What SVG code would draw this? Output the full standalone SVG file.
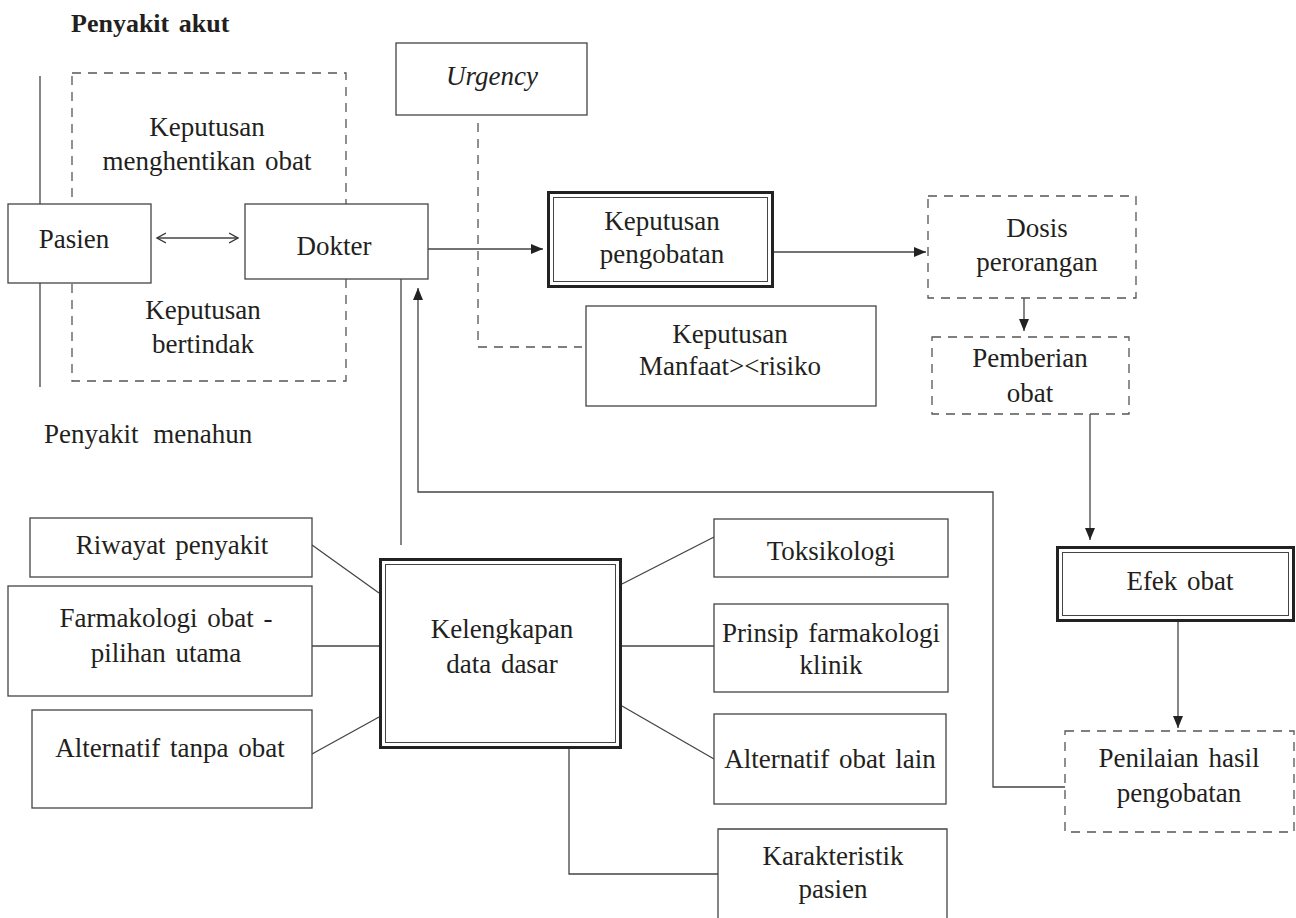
<svg xmlns="http://www.w3.org/2000/svg" width="1296" height="918" viewBox="0 0 1296 918">
<style>
text{font-family:"Liberation Serif","DejaVu Serif",serif;font-size:27px;fill:#231f20;text-anchor:middle;word-spacing:3px}
.l{text-anchor:start}
.b{font-weight:bold;font-size:26px}
.i{font-style:italic}
.box{fill:#fff;stroke:#444;stroke-width:1.3}
.dbox{fill:#fff;stroke:#555;stroke-width:1.3;stroke-dasharray:9 7}
.outer{fill:#fff;stroke:#222;stroke-width:3}
.inner{fill:none;stroke:#444;stroke-width:1}
.ln{fill:none;stroke:#444;stroke-width:1.3}
.dl{fill:none;stroke:#555;stroke-width:1.3;stroke-dasharray:9 7}
</style>
<defs>
<marker id="arr" viewBox="0 0 12 10" refX="12" refY="5" markerWidth="12" markerHeight="10" markerUnits="userSpaceOnUse" orient="auto">
<path d="M0,0 L12,5 L0,10 Z" fill="#222"/>
</marker>
<marker id="open" viewBox="0 0 10 12" refX="9" refY="6" markerWidth="10" markerHeight="12" markerUnits="userSpaceOnUse" orient="auto-start-reverse">
<path d="M0,1 L9,6 L0,11" fill="none" stroke="#333" stroke-width="1.3"/>
</marker>
</defs>
<rect width="1296" height="918" fill="#fff"/>

<g id="labels">
<text class="l b" x="71" y="32">Penyakit akut</text>
<text class="l" x="44" y="443" style="word-spacing:8px">Penyakit menahun</text>
</g>

<g id="decision-area">
<line class="ln" x1="40" y1="76" x2="40" y2="204"/>
<line class="ln" x1="40" y1="283" x2="40" y2="387"/>
<rect class="dbox" x="72" y="73" width="274" height="308"/>
<text x="207" y="136">Keputusan</text>
<text x="207" y="170">menghentikan obat</text>
<text x="203" y="319">Keputusan</text>
<text x="203" y="353">bertindak</text>
</g>

<g id="connectors">
<line class="ln" x1="157" y1="238" x2="238" y2="238" marker-start="url(#open)" marker-end="url(#open)"/>
<polyline class="dl" points="478,123 478,347 582,347"/>
<line class="ln" x1="428" y1="249" x2="543" y2="249" marker-end="url(#arr)"/>
<line class="ln" x1="774" y1="252" x2="926" y2="252" marker-end="url(#arr)"/>
<line class="ln" x1="1024" y1="298" x2="1024" y2="331" marker-end="url(#arr)"/>
<line class="ln" x1="1090" y1="414" x2="1090" y2="540" marker-end="url(#arr)"/>
<line class="ln" x1="1178" y1="621" x2="1178" y2="728" marker-end="url(#arr)"/>
<polyline class="ln" points="1065,787 993,787 993,492 418,492 418,288" marker-end="url(#arr)"/>
<line class="ln" x1="401" y1="279" x2="401" y2="545"/>
<line class="ln" x1="312" y1="545" x2="379" y2="593"/>
<line class="ln" x1="312" y1="646" x2="379" y2="646"/>
<line class="ln" x1="312" y1="754" x2="379" y2="717"/>
<line class="ln" x1="622" y1="584" x2="714" y2="537"/>
<line class="ln" x1="622" y1="646" x2="714" y2="646"/>
<line class="ln" x1="622" y1="706" x2="714" y2="759"/>
<polyline class="ln" points="569,749 569,874 718,874"/>
</g>

<g id="pasien">
<rect class="box" x="8" y="204" width="143" height="79"/>
<text x="74" y="248">Pasien</text>
</g>

<g id="dokter">
<rect class="box" x="245" y="204" width="183" height="75"/>
<text x="334" y="255">Dokter</text>
</g>

<g id="urgency">
<rect class="box" x="396" y="43" width="191" height="72"/>
<text class="i" x="492" y="85">Urgency</text>
</g>

<g id="keputusan-pengobatan">
<rect class="outer" x="548.5" y="192.5" width="224" height="94"/>
<rect class="inner" x="553.5" y="197.5" width="214" height="84"/>
<text x="662" y="230">Keputusan</text>
<text x="662" y="263">pengobatan</text>
</g>

<g id="keputusan-manfaat">
<rect class="box" x="586" y="306" width="290" height="100"/>
<text x="730" y="343">Keputusan</text>
<text x="730" y="375">Manfaat&gt;&lt;risiko</text>
</g>

<g id="dosis">
<rect class="dbox" x="928" y="196" width="208" height="102"/>
<text x="1037" y="237">Dosis</text>
<text x="1037" y="271">perorangan</text>
</g>

<g id="pemberian">
<rect class="dbox" x="932" y="337" width="197" height="77"/>
<text x="1030" y="367">Pemberian</text>
<text x="1030" y="402">obat</text>
</g>

<g id="efek-obat">
<rect class="outer" x="1057.5" y="547.5" width="236" height="73"/>
<rect class="inner" x="1062.5" y="552.5" width="226" height="63"/>
<text x="1180" y="590">Efek obat</text>
</g>

<g id="penilaian">
<rect class="dbox" x="1065" y="731" width="229" height="101"/>
<text x="1179" y="767">Penilaian hasil</text>
<text x="1179" y="802">pengobatan</text>
</g>

<g id="riwayat">
<rect class="box" x="30" y="518" width="282" height="59"/>
<text x="172" y="554">Riwayat penyakit</text>
</g>

<g id="farmakologi">
<rect class="box" x="8" y="586" width="304" height="110"/>
<text x="166" y="627">Farmakologi obat -</text>
<text x="166" y="662">pilihan utama</text>
</g>

<g id="alternatif-tanpa">
<rect class="box" x="32" y="710" width="280" height="98"/>
<text x="170" y="757">Alternatif tanpa obat</text>
</g>

<g id="kelengkapan">
<rect class="outer" x="380.5" y="559.5" width="240" height="188"/>
<rect class="inner" x="385.5" y="564.5" width="230" height="178"/>
<text x="502" y="638">Kelengkapan</text>
<text x="502" y="673">data dasar</text>
</g>

<g id="toksikologi">
<rect class="box" x="714" y="519" width="234" height="58"/>
<text x="831" y="560">Toksikologi</text>
</g>

<g id="prinsip">
<rect class="box" x="714" y="604" width="234" height="88"/>
<text x="831" y="642">Prinsip farmakologi</text>
<text x="831" y="674">klinik</text>
</g>

<g id="alternatif-lain">
<rect class="box" x="714" y="714" width="232" height="90"/>
<text x="830" y="768">Alternatif obat lain</text>
</g>

<g id="karakteristik">
<path class="ln" d="M718,918 V829 H947 V918" fill="#fff"/>
<text x="833" y="865">Karakteristik</text>
<text x="833" y="898">pasien</text>
</g>
</svg>
